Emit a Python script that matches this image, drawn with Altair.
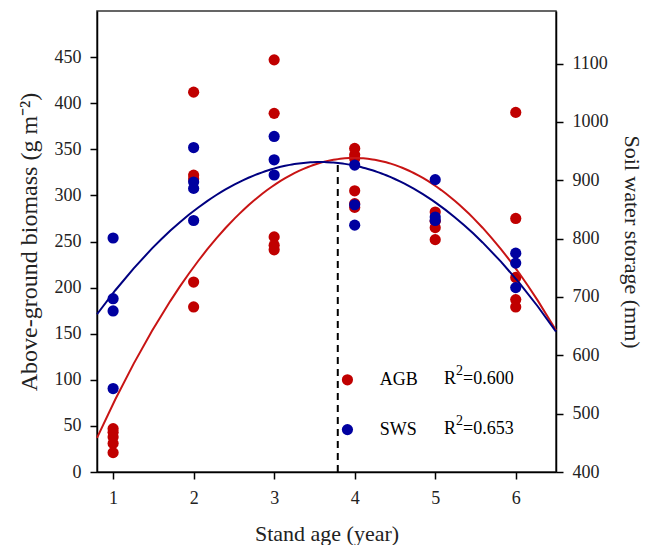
import altair as alt
import pandas as pd

# ---- data ----
agb_age = [1, 1, 1, 1, 1,
           2, 2, 2, 2, 2,
           3, 3, 3, 3, 3,
           4, 4, 4, 4, 4, 4,
           5, 5, 5, 5,
           6, 6, 6, 6, 6]
agb_value = [47, 43, 38, 31, 21,
             412, 322, 318, 206, 179,
             447, 389, 255, 246, 241,
             351, 344, 340, 305, 291, 287,
             282, 272, 265, 252,
             390, 275, 211, 187, 179]

sws_age = [1, 1, 1, 1,
           2, 2, 2, 2,
           3, 3, 3,
           4, 4, 4,
           5, 5, 5,
           6, 6, 6]
sws_value = [801, 697, 676, 543,
             956, 897, 886, 831,
             975, 935, 909,
             926, 858, 823,
             901, 837, 831,
             775, 758, 716]

x_ticks = [1, 2, 3, 4, 5, 6]
left_ticks = [0, 50, 100, 150, 200, 250, 300, 350, 400, 450]
right_ticks = [400, 500, 600, 700, 800, 900, 1000, 1100]

legend_labels = ["AGB", "SWS"]
legend_r2 = ["=0.600", "=0.653"]
legend_colors = ["#C00000", "#0000A0"]

peak_age = 3.79
peak_value = 335

# ---- tables ----
agb = pd.DataFrame({"age": agb_age, "value": agb_value})
sws = pd.DataFrame({"age": sws_age, "value": sws_value})
legend = pd.DataFrame({"label": legend_labels, "r2": legend_r2,
                       "color": legend_colors, "ly": [100, 46]})
peak = pd.DataFrame({"age": [peak_age], "y0": [0], "y1": [peak_value]})

FONT = "Liberation Serif"

xscale = alt.Scale(domain=[0.8, 6.5], nice=False, zero=False)
xaxis = alt.Axis(values=x_ticks, format="d", title="Stand age (year)",
                 labelPadding=10, titlePadding=16, titleFontSize=22)
lscale = alt.Scale(domain=[0, 500], nice=False)
rscale = alt.Scale(domain=[400, 1190], nice=False, zero=False)
laxis = alt.Axis(values=left_ticks, format="d",
                 title="Above-ground biomass (g m\u207b\u00b2)",
                 orient="left", labelPadding=9, titlePadding=13, titleFontSize=24)
raxis = alt.Axis(values=right_ticks, format="d", title="Soil water storage (mm)",
                 orient="right", labelPadding=9, titlePadding=11, titleFontSize=22)

X = alt.X("age:Q", scale=xscale, axis=xaxis)

agb_pts = alt.Chart(agb).mark_circle(size=125, opacity=1, color="#C00000").encode(
    x=X, y=alt.Y("value:Q", scale=lscale, axis=laxis))
agb_fit = alt.Chart(agb).transform_regression(
    "age", "value", method="poly", order=2, extent=[0.8, 6.5]
).mark_line(color="#C81414", strokeWidth=2).encode(
    x=X, y=alt.Y("value:Q", scale=lscale, axis=laxis))
peak_rule = alt.Chart(peak).mark_rule(color="black", strokeWidth=2,
                                      strokeDash=[7, 5]).encode(
    x=X, y=alt.Y("y0:Q", scale=lscale, axis=laxis), y2="y1:Q")
leg_pts = alt.Chart(legend).mark_circle(size=125, opacity=1).encode(
    x=alt.datum(3.91), y=alt.Y("ly:Q", scale=lscale, axis=laxis),
    color=alt.Color("color:N", scale=None))
leg_txt = alt.Chart(legend).mark_text(align="left", baseline="middle",
                                      fontSize=18, font=FONT, color="black").encode(
    x=alt.datum(4.31), y=alt.Y("ly:Q", scale=lscale, axis=laxis), text="label:N")
leg_R = alt.Chart(legend).mark_text(align="left", baseline="middle",
                                    fontSize=18, font=FONT, color="black", dy=-1).encode(
    x=alt.datum(5.11), y=alt.Y("ly:Q", scale=lscale, axis=laxis), text=alt.value("R"))
leg_sup = alt.Chart(legend).mark_text(align="left", baseline="middle",
                                      fontSize=14, font=FONT, color="black",
                                      dx=12, dy=-9).encode(
    x=alt.datum(5.11), y=alt.Y("ly:Q", scale=lscale, axis=laxis), text=alt.value("2"))
leg_r2 = alt.Chart(legend).mark_text(align="left", baseline="middle",
                                     fontSize=18, font=FONT, color="black",
                                     dx=19, dy=-1).encode(
    x=alt.datum(5.11), y=alt.Y("ly:Q", scale=lscale, axis=laxis), text="r2:N")

left = alt.layer(agb_pts, agb_fit, peak_rule, leg_pts, leg_txt, leg_R, leg_sup, leg_r2)

sws_fit = alt.Chart(sws).transform_regression(
    "age", "value", method="poly", order=2, extent=[0.8, 6.5]
).mark_line(color="#000080", strokeWidth=2).encode(
    x=X, y=alt.Y("value:Q", scale=rscale, axis=raxis))
sws_pts = alt.Chart(sws).mark_circle(size=125, opacity=1, color="#0000A0").encode(
    x=X, y=alt.Y("value:Q", scale=rscale, axis=raxis))

right = alt.layer(sws_fit, sws_pts)

chart = alt.layer(left, right).resolve_scale(y="independent").properties(
    width=459, height=461,
    autosize=alt.AutoSizeParams(type="none"),
    padding={"left": 89, "top": 3, "right": 87, "bottom": 73},
).configure(font=FONT).configure_view(
    stroke="#333333", strokeWidth=1.5
).configure_axis(
    grid=False, domainColor="black", domainWidth=1.5, tickColor="black",
    tickWidth=1.5, tickSize=7, labelFont=FONT, labelFontSize=18,
    labelColor="#222222", titleFont=FONT,
    titleFontWeight="normal", titleColor="#222222"
)

chart.save("out.html", embed_options={"renderer": "svg", "actions": False})
